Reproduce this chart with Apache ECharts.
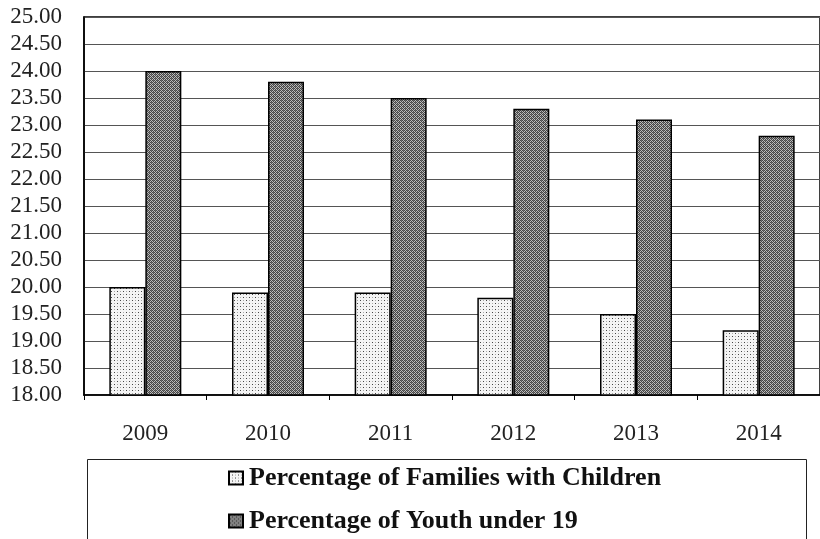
<!DOCTYPE html>
<html>
<head>
<meta charset="utf-8">
<script src="https://cdn.jsdelivr.net/npm/echarts@6/dist/echarts.min.js"></script>
<style>html,body{margin:0;padding:0;background:#fff;}#c{width:820px;height:539px;}</style>
</head>
<body>
<div id="c"></div>
<script>
var categories = ['2009', '2010', '2011', '2012', '2013', '2014'];
var familiesWithChildren = [20.0, 19.9, 19.9, 19.8, 19.5, 19.2];
var youthUnder19 = [24.0, 23.8, 23.5, 23.3, 23.1, 22.8];
var seriesNames = ['Percentage of Families with Children', 'Percentage of Youth under 19'];

function lightPattern() {
  var c = document.createElement('canvas');
  c.width = 6; c.height = 6;
  var g = c.getContext('2d');
  g.fillStyle = '#f4f4f4'; g.fillRect(0, 0, 6, 6);
  g.fillStyle = '#444';
  g.fillRect(0, 0, 1, 1); g.fillRect(3, 3, 1, 1);
  g.fillStyle = '#aaa';
  g.fillRect(3, 0, 1, 1); g.fillRect(0, 3, 1, 1);
  return c;
}
function darkPattern() {
  var c = document.createElement('canvas');
  c.width = 4; c.height = 4;
  var g = c.getContext('2d');
  g.fillStyle = '#bcbcbc'; g.fillRect(0, 0, 4, 4);
  g.fillStyle = '#454545';
  for (var y = 0; y < 4; y++) for (var x = 0; x < 4; x++) if ((x + y) % 2 === 0) g.fillRect(x, y, 1, 1);
  g.fillStyle = '#707070'; g.fillRect(1, 0, 1, 1); g.fillRect(3, 2, 1, 1);
  return c;
}

var chart = echarts.init(document.getElementById('c'));
var font = '"Liberation Serif", "DejaVu Serif", serif';
chart.setOption({
  animation: false,
  backgroundColor: '#fff',
  grid: { left: 84, right: -10, top: 17, bottom: 144, show: true, borderColor: '#000', borderWidth: 1.5, backgroundColor: 'transparent' },
  xAxis: {
    type: 'category',
    data: categories,
    axisLine: { lineStyle: { color: '#000', width: 1.5 } },
    axisTick: { show: true, length: 5, lineStyle: { color: '#000' } },
    axisLabel: { color: '#222', fontFamily: font, fontSize: 23, margin: 27 }
  },
  yAxis: {
    type: 'value',
    min: 18,
    max: 25,
    interval: 0.5,
    axisLine: { show: true, lineStyle: { color: '#000', width: 1.5 } },
    axisTick: { show: false },
    axisLabel: { color: '#222', fontFamily: font, fontSize: 23, margin: 22, formatter: function (v) { return v.toFixed(2); } },
    splitLine: { lineStyle: { color: '#555', width: 1 } }
  },
  legend: {
    orient: 'vertical',
    left: 228,
    top: 465,
    padding: 0,
    itemWidth: 14,
    itemHeight: 13,
    itemGap: 17,
    icon: 'rect',
    textStyle: { fontFamily: font, fontSize: 26, fontWeight: 'bold', color: '#111', lineHeight: 26, padding: [0, 0, 0, 1] },
    data: seriesNames
  },
  graphic: [{
    type: 'rect',
    left: 85, top: 457,
    shape: { width: 719, height: 100 },
    style: { fill: 'none', stroke: '#222', lineWidth: 1 },
    z: -1
  }],
  series: [{
    name: seriesNames[0],
    type: 'bar',
    data: familiesWithChildren,
    barWidth: 36,
    barGap: '0%',
    itemStyle: { color: { image: lightPattern(), repeat: 'repeat' }, borderColor: '#000', borderWidth: 1.5 }
  }, {
    name: seriesNames[1],
    type: 'bar',
    data: youthUnder19,
    barWidth: 36,
    barGap: '0%',
    itemStyle: { color: { image: darkPattern(), repeat: 'repeat' }, borderColor: '#000', borderWidth: 1.5 }
  }]
});
</script>
</body>
</html>
